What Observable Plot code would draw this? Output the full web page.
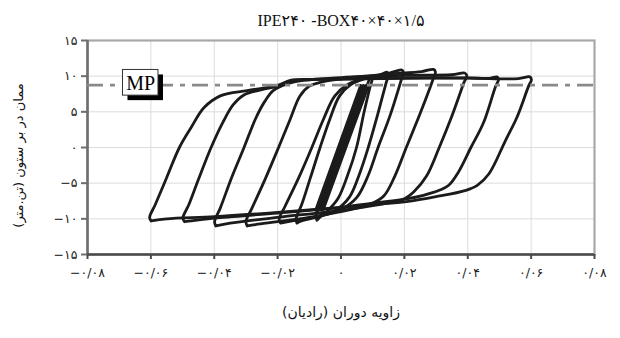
<!DOCTYPE html>
<html><head><meta charset="utf-8">
<style>body{margin:0;background:#fff}</style>
<script src="https://cdn.jsdelivr.net/npm/d3@7"></script>
<script src="https://cdn.jsdelivr.net/npm/@observablehq/plot@0.6"></script>
</head><body><div id="chart"></div>
<script>
const titleText = "IPE۲۴۰ -BOX۴۰×۴۰×۱/۵";
const xLabel = "زاویه دوران (رادیان)";
const yLabel = "ممان در بر ستون (تن.متر)";
const xTicks = [-0.08,-0.06,-0.04,-0.02,0,0.02,0.04,0.06,0.08];
const xTickLabels = ["−۰/۰۸","−۰/۰۶","−۰/۰۴","−۰/۰۲","۰","۰/۰۲","۰/۰۴","۰/۰۶","۰/۰۸"];
const yTicks = [-15,-10,-5,0,5,10,15];
const yTickLabels = ["−۱۵","−۱۰","−۵","۰","۵","۱۰","۱۵"];
const mpValue = 8.75;
const mpText = "MP";

// small elastic cycles (thick band)
const band1 = [[-0.0080,-8.8],[0.0062,8.7],[0.0068,8.6],[-0.0074,-8.7],[-0.0080,-8.8]];
const band2 = [[-0.0071,-8.8],[0.0071,8.7],[0.0077,8.6],[-0.0065,-8.7],[-0.0071,-8.8]];
const band3 = [[-0.0062,-8.8],[0.0080,8.7],[0.0086,8.6],[-0.0056,-8.7],[-0.0062,-8.8]];

// hysteresis cycles (rotation, moment)
const loop010 = [[-0.0076,-10.2],[-0.0079,-9.6],[-0.0060,-7.6],[-0.0025,-3.8],[0.0010,0],[0.0045,4.0],[0.0068,7.0],[0.0083,8.8],[0.0094,9.9],[0.0098,9.6],[0.0090,8.2],[0.0072,4.8],[0.0049,0],[0.0020,-4.0],[-0.0010,-7.2],[-0.0045,-9.0],[-0.0070,-9.9],[-0.0076,-10.2]];
const loop015 = [[-0.0139,-10.6],[-0.0142,-10.0],[-0.0124,-8.0],[-0.0097,-4.3],[-0.0066,0],[-0.0035,4.0],[-0.0005,7.2],[0.0030,8.8],[0.0080,9.7],[0.0125,10.2],[0.0146,10.55],[0.0150,10.2],[0.0142,9.0],[0.0115,4.5],[0.0086,0],[0.0056,-4.0],[0.0026,-7.0],[-0.0020,-8.9],[-0.0080,-9.8],[-0.0125,-10.3],[-0.0139,-10.6]];
const loop020 = [[-0.0191,-10.6],[-0.0195,-10.0],[-0.0176,-8.2],[-0.0134,-4.3],[-0.0092,0],[-0.0055,4.0],[-0.0020,7.2],[0.0020,8.8],[0.0080,9.8],[0.0150,10.4],[0.0192,10.85],[0.0197,10.5],[0.0189,9.3],[0.0155,4.5],[0.0117,0],[0.0085,-4.0],[0.0050,-7.0],[0.0000,-8.7],[-0.0060,-9.5],[-0.0130,-10.1],[-0.0191,-10.6]];
const loop030 = [[-0.0296,-11.0],[-0.0300,-10.4],[-0.0281,-8.5],[-0.0240,-4.5],[-0.0197,0],[-0.0160,4.0],[-0.0130,7.2],[-0.0100,8.6],[-0.0060,9.2],[0.0050,9.9],[0.0150,10.3],[0.0255,10.65],[0.0292,10.95],[0.0298,10.6],[0.0290,9.5],[0.0250,4.8],[0.0206,0],[0.0170,-4.0],[0.0135,-6.8],[0.0090,-8.0],[0.0000,-9.0],[-0.0100,-9.8],[-0.0200,-10.4],[-0.0270,-10.8],[-0.0296,-11.0]];
const loop040 = [[-0.0395,-11.0],[-0.0399,-10.4],[-0.0381,-8.5],[-0.0345,-4.2],[-0.0306,0],[-0.0270,4.0],[-0.0240,6.5],[-0.0213,8.0],[-0.0170,8.9],[-0.0120,9.4],[0.0000,9.8],[0.0200,10.1],[0.0350,10.2],[0.0390,10.45],[0.0397,10.1],[0.0388,9.1],[0.0350,4.4],[0.0310,0],[0.0270,-4.0],[0.0230,-6.2],[0.0195,-7.3],[0.0120,-8.0],[0.0000,-8.8],[-0.0200,-9.8],[-0.0350,-10.6],[-0.0395,-11.0]];
const loop050 = [[-0.0494,-10.4],[-0.0499,-9.9],[-0.0480,-8.0],[-0.0450,-4.5],[-0.0410,0],[-0.0372,3.6],[-0.0340,6.0],[-0.0305,7.4],[-0.0250,8.1],[-0.0200,8.6],[-0.0160,9.3],[-0.0100,9.5],[0.0000,9.6],[0.0200,9.75],[0.0400,9.75],[0.0470,9.7],[0.0492,9.9],[0.0497,9.5],[0.0488,8.6],[0.0450,3.5],[0.0410,0],[0.0370,-3.5],[0.0340,-5.3],[0.0310,-6.0],[0.0260,-6.7],[0.0206,-7.2],[0.0100,-7.8],[0.0000,-8.4],[-0.0200,-9.2],[-0.0400,-9.9],[-0.0494,-10.4]];
const loop060 = [[-0.0599,-10.3],[-0.0604,-9.8],[-0.0586,-8.0],[-0.0550,-4.2],[-0.0510,0],[-0.0473,2.8],[-0.0432,5.6],[-0.0379,7.27],[-0.0296,7.97],[-0.0202,8.67],[-0.0160,9.4],[-0.0100,9.55],[0.0000,9.6],[0.0200,9.7],[0.0400,9.72],[0.0560,9.65],[0.0596,9.9],[0.0601,9.5],[0.0592,8.6],[0.0555,4.2],[0.0519,0.98],[0.0467,-3.68],[0.0430,-5.3],[0.0394,-6.0],[0.0300,-6.9],[0.0206,-7.6],[0.0100,-8.0],[0.0000,-8.4],[-0.0200,-9.1],[-0.0400,-9.7],[-0.0550,-10.0],[-0.0599,-10.3]];

const bands = [band1, band2, band3];
const loops = [loop010, loop015, loop020, loop030, loop040, loop050, loop060];
const toRows = (arr) => arr.flatMap((pts, i) => pts.map(([x, y]) => ({cycle: i, x, y})));
const bandRows = toRows(bands);
const loopRows = toRows(loops);

// MP label anchor (data coords) and box half-extent
const mpAt = {x: -0.0632, y: 9.07};
const mpBox = {x1: mpAt.x - 0.0056, x2: mpAt.x + 0.0056, y1: mpAt.y - 1.8, y2: mpAt.y + 1.8};

const faFont = "DejaVu Sans, sans-serif";
const fmtX = d => xTickLabels[xTicks.findIndex(t => Math.abs(t - d) < 1e-9)];
const fmtY = d => yTickLabels[yTicks.findIndex(t => Math.abs(t - d) < 1e-9)];

const chart = Plot.plot({
  width: 620, height: 338,
  marginLeft: 87, marginRight: 26, marginTop: 40, marginBottom: 84,
  style: {background: "#fff", overflow: "visible"},
  x: {domain: [-0.08, 0.08], label: null},
  y: {domain: [-15, 15], label: null},
  marks: [
    Plot.gridX({ticks: xTicks, stroke: "#dcdcdc", strokeOpacity: 1, strokeWidth: 1}),
    Plot.gridY({ticks: yTicks, stroke: "#dcdcdc", strokeOpacity: 1, strokeWidth: 1}),
    Plot.frame({stroke: "#a8a8a8", strokeWidth: 2.2}),
    Plot.ruleX([-0.08], {stroke: "#6e6e6e", strokeWidth: 2.5}),
    Plot.ruleY([-15], {stroke: "#4a4a4a", strokeWidth: 2.5}),
    Plot.axisX({ticks: xTicks, tickFormat: fmtX, tickSize: 5, tickPadding: 9, stroke: "#4a4a4a", strokeWidth: 2, fill: "#222", fontSize: 12.5, fontFamily: faFont, label: null}),
    Plot.axisY({ticks: yTicks, tickFormat: fmtY, tickSize: 6, tickPadding: 4, stroke: "#6e6e6e", strokeWidth: 2, fill: "#222", fontSize: 12.5, fontFamily: faFont, label: null}),
    Plot.line(loopRows, {x: "x", y: "y", z: "cycle", curve: "catmull-rom", stroke: "#1b1b1b", strokeWidth: 2.8, strokeLinejoin: "round"}),
    Plot.line(bandRows, {x: "x", y: "y", z: "cycle", curve: "linear", stroke: "#1b1b1b", strokeWidth: 2.8, strokeLinejoin: "round"}),
    Plot.ruleY([mpValue], {stroke: "#8a8a8a", strokeWidth: 2.6, strokeDasharray: "16,7,5,7"}),
    Plot.rect([mpBox], {x1: "x1", x2: "x2", y1: "y1", y2: "y2", fill: "#000", dx: 5, dy: 5}),
    Plot.rect([mpBox], {x1: "x1", x2: "x2", y1: "y1", y2: "y2", fill: "#fff", stroke: "#333", strokeWidth: 1}),
    Plot.text([mpText], {x: mpAt.x, y: mpAt.y, text: d => d, fontFamily: "Liberation Serif, serif", fontSize: 20, fill: "#000", dy: 1}),
    Plot.text([titleText], {frameAnchor: "top", text: d => d, textAnchor: "middle", lineAnchor: "middle", dy: -20, fontFamily: "Liberation Serif, DejaVu Sans, serif", fontSize: 16, fill: "#111"}),
    Plot.text([xLabel], {frameAnchor: "bottom", text: d => d, textAnchor: "middle", lineAnchor: "middle", dy: 58, fontFamily: faFont, fontSize: 14, fill: "#111"}),
    Plot.text([yLabel], {frameAnchor: "left", text: d => d, textAnchor: "middle", lineAnchor: "middle", dx: -69, dy: 8, rotate: -90, fontFamily: faFont, fontSize: 13, fill: "#111"})
  ]
});
document.getElementById("chart").append(chart);
</script>
</body></html>
